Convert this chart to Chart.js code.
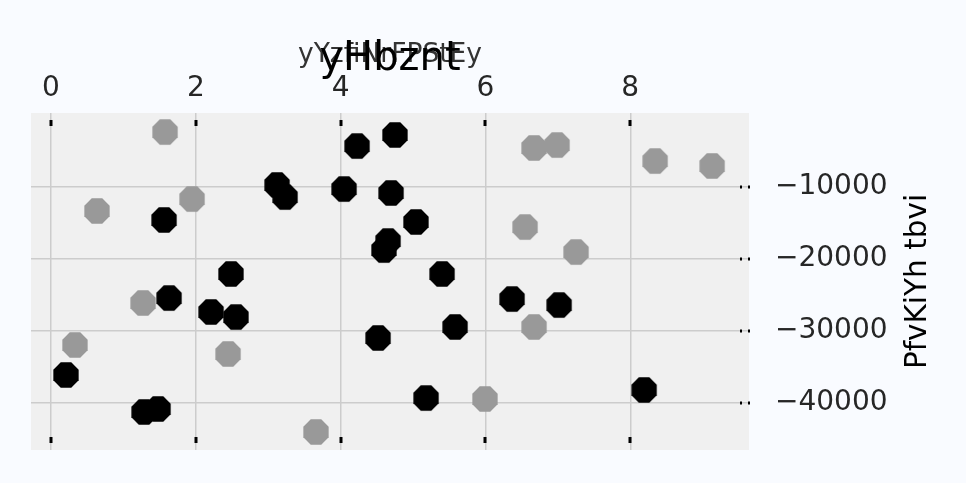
<!DOCTYPE html>
<html><head><meta charset="utf-8">
<style>html,body{margin:0;padding:0;background:#f9fbff;} canvas{display:block;}</style>
<script src="https://cdn.jsdelivr.net/npm/chart.js@4.4.0/dist/chart.umd.min.js"></script>
</head><body>
<canvas id="c" width="966" height="483"></canvas>
<script>
const chartTitle = 'yHbznt';
const xAxisTitle = 'yYzfiNrFPStEy';
const yAxisTitle = 'PfvKiYh tbvi';
const xTicks = [0, 2, 4, 6, 8];
const xTickLabels = ['0', '2', '4', '6', '8'];
const yTicks = [-10000, -20000, -30000, -40000];
const yTickLabels = ['\u221210000', '\u221220000', '\u221230000', '\u221240000'];

const blackX = [4.751, 4.227, 3.122, 3.232, 4.047, 4.696, 1.561, 5.041, 4.655, 4.599, 2.486, 5.401, 1.630, 6.367, 7.017, 2.210, 2.555, 5.580, 4.517, 0.207, 8.191, 5.180, 1.478, 1.285];
const blackY = [-2778, -4306, -9722, -11389, -10278, -10833, -14583, -14861, -17500, -18750, -22083, -22083, -25417, -25556, -26389, -27361, -28056, -29444, -30972, -36111, -38194, -39306, -40833, -41250];
const grayX = [1.575, 6.671, 6.989, 8.343, 9.130, 0.635, 1.948, 6.547, 7.251, 1.271, 6.671, 0.331, 2.445, 5.994, 3.660];
const grayY = [-2361, -4583, -4167, -6389, -7083, -13333, -11667, -15556, -19028, -26111, -29444, -31944, -33194, -39444, -44028];

const FONT = 'DejaVu Sans';

function octagon(color) {
  const s = 28, c = document.createElement('canvas');
  c.width = s; c.height = s;
  const g = c.getContext('2d');
  const R = 13.7;
  g.beginPath();
  for (let k = 0; k < 8; k++) {
    const a = Math.PI / 8 + k * Math.PI / 4;
    const px = s / 2 + R * Math.cos(a), py = s / 2 + R * Math.sin(a);
    if (k) g.lineTo(px, py); else g.moveTo(px, py);
  }
  g.closePath();
  g.fillStyle = color;
  g.fill();
  return c;
}

const deco = {
  id: 'deco',
  beforeDraw(chart) {
    const {ctx, chartArea: a} = chart;
    ctx.save();
    ctx.fillStyle = '#f0f0f0';
    ctx.fillRect(a.left, a.top, a.right - a.left, a.bottom - a.top);
    ctx.restore();
  },
  afterDraw(chart) {
    const {ctx, chartArea: a, scales} = chart;
    ctx.save();
    ctx.fillStyle = '#000';
    xTicks.forEach(v => {
      const px = Math.round(scales.x.getPixelForValue(v));
      ctx.fillRect(px - 1.5, a.top + 7, 3, 6);
      ctx.fillRect(px - 1.5, a.bottom - 13, 3, 6);
    });
    yTicks.forEach(v => {
      const py = scales.y.getPixelForValue(v);
      ctx.fillRect(a.right - 9, py - 1.5, 2, 3);
      ctx.fillRect(a.right - 1, py - 1.5, 2, 3);
    });
    // main title
    ctx.fillStyle = '#000';
    ctx.font = '40px "' + FONT + '"';
    ctx.textAlign = 'center';
    ctx.textBaseline = 'alphabetic';
    ctx.fillText(chartTitle, (a.left + a.right) / 2, 70);
    // y axis title
    ctx.fillStyle = '#000';
    ctx.font = '29.5px "' + FONT + '"';
    ctx.translate(926, (a.top + a.bottom) / 2);
    ctx.rotate(-Math.PI / 2);
    ctx.fillText(yAxisTitle, 0, 0);
    ctx.restore();
  }
};

new Chart(document.getElementById('c'), {
  type: 'scatter',
  data: {
    datasets: [
      {
        label: 'black',
        data: blackX.map((x, i) => ({x, y: blackY[i]})),
        pointStyle: octagon('#000000'),
        pointRadius: 13,
        backgroundColor: '#000000'
      },
      {
        label: 'gray',
        data: grayX.map((x, i) => ({x, y: grayY[i]})),
        pointStyle: octagon('#999999'),
        pointRadius: 13,
        backgroundColor: '#999999'
      }
    ]
  },
  options: {
    responsive: false,
    animation: false,
    layout: {padding: {left: 31, right: 0, top: 0, bottom: 33}},
    plugins: {legend: {display: false}, tooltip: {enabled: false}, title: {display: false}},
    scales: {
      x: {
        type: 'linear', position: 'top', min: -0.276, max: 9.64,
        afterBuildTicks: s => { s.ticks = xTicks.map(v => ({value: v})); },
        afterFit: s => { s.height = 113; s.paddingLeft = 0; s.paddingRight = 0; },
        grid: {color: '#cccccc', lineWidth: 1.5, drawTicks: false},
        border: {display: false},
        ticks: {
          padding: 7, color: '#262626', font: {family: FONT, size: 28},
          autoSkip: false, maxRotation: 0,
          callback: v => xTickLabels[xTicks.indexOf(v)] ?? ''
        },
        title: {display: true, text: xAxisTitle, color: '#333333', font: {family: FONT, size: 26.5}, padding: {top: 39, bottom: 0}}
      },
      y: {
        type: 'linear', position: 'right', min: -46528, max: 278,
        afterBuildTicks: s => { s.ticks = yTicks.map(v => ({value: v})); },
        afterFit: s => { s.width = 217; s.paddingTop = 0; s.paddingBottom = 0; },
        grid: {color: '#cccccc', lineWidth: 1.5, drawTicks: false},
        border: {display: false},
        ticks: {
          padding: 26, color: '#262626', font: {family: FONT, size: 28},
          autoSkip: false,
          callback: v => yTickLabels[yTicks.indexOf(v)] ?? ''
        }
      }
    }
  },
  plugins: [deco]
});
</script>
</body></html>
